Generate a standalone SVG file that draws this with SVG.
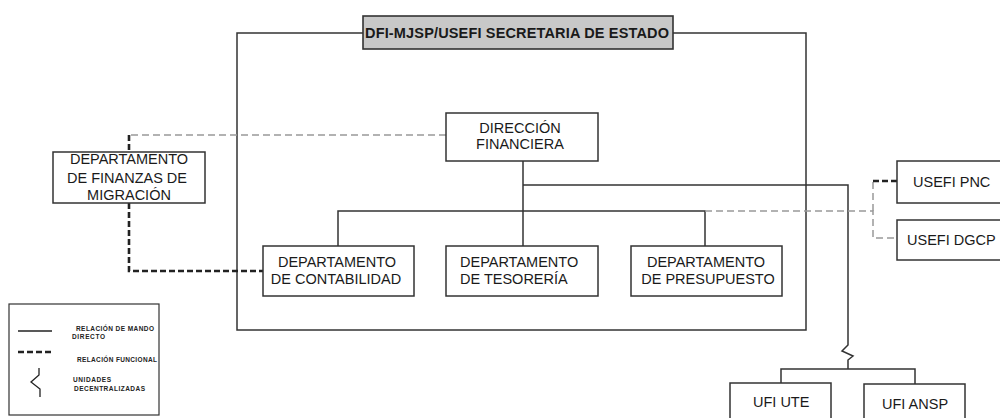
<svg xmlns="http://www.w3.org/2000/svg" width="1000" height="418" viewBox="0 0 1000 418">
<style>
.box{fill:#fff;stroke:#333;stroke-width:1.5}
.t{font-family:"Liberation Sans",Arial,sans-serif;font-size:14.5px;fill:#1a1a1a}
.c{text-anchor:middle}
.sol{fill:none;stroke:#333;stroke-width:1.5}
.gd{fill:none;stroke:#999;stroke-width:1.5;stroke-dasharray:7 4}
.bd{fill:none;stroke:#222;stroke-width:2.6;stroke-dasharray:6 3}
.lg{font-family:"Liberation Sans",Arial,sans-serif;font-size:6.5px;fill:#222;font-weight:bold}
</style>
<rect width="1000" height="418" fill="#fff"/>
<g id="frame"><rect x="237" y="33" width="569" height="297" class="sol"/></g>
<g id="connectors">
<path class="sol" d="M523,161 V246"/>
<path class="sol" d="M523,185 H848 V345 L842,351 L853,356 L848,360 V369"/>
<path class="sol" d="M338,246 V211 H705 V246"/>
<path class="sol" d="M781,383 V369 H915 V384"/>
<path class="gd" d="M446,135 H129"/>
<path class="bd" d="M129,135 V152"/>
<path class="bd" d="M129,203 V271 H263"/>
<path class="gd" d="M705,211 H873 V238 H897"/>
<path class="gd" d="M873,211 V181"/>
<path class="bd" d="M873,181 H897"/>
</g>
<g id="title"><rect x="363" y="16" width="310" height="33" fill="#c8c8c8" stroke="#333" stroke-width="1.6"/>
<text class="t" x="365" y="38" font-weight="bold" font-size="14.5" textLength="304">DFI-MJSP/USEFI SECRETARIA DE ESTADO</text></g>
<g id="df"><rect class="box" x="446" y="113" width="152" height="48"/>
<text class="t c" x="520" y="133">DIRECCIÓN</text><text class="t c" x="520" y="149">FINANCIERA</text></g>
<g id="migracion"><rect class="box" x="53" y="152" width="152" height="51"/>
<text class="t c" x="129" y="164">DEPARTAMENTO</text><text class="t c" x="127" y="183">DE FINANZAS DE</text><text class="t c" x="129" y="200">MIGRACIÓN</text></g>
<g id="contabilidad"><rect class="box" x="263" y="246" width="151" height="50"/>
<text class="t c" x="337" y="267">DEPARTAMENTO</text><text class="t c" x="336" y="284">DE CONTABILIDAD</text></g>
<g id="tesoreria"><rect class="box" x="446" y="246" width="152" height="50"/>
<text class="t" x="460" y="267">DEPARTAMENTO</text><text class="t" x="460" y="284">DE TESORERÍA</text></g>
<g id="presupuesto"><rect class="box" x="631" y="246" width="151" height="50"/>
<text class="t c" x="706" y="267">DEPARTAMENTO</text><text class="t c" x="708" y="284">DE PRESUPUESTO</text></g>
<g id="pnc"><rect class="box" x="897" y="161" width="115" height="42"/>
<text class="t" x="913" y="187">USEFI PNC</text></g>
<g id="dgcp"><rect class="box" x="897" y="220" width="115" height="40"/>
<text class="t" x="907" y="245">USEFI DGCP</text></g>
<g id="ute"><rect class="box" x="730" y="383" width="101" height="45"/>
<text class="t" x="753" y="407">UFI UTE</text></g>
<g id="ansp"><rect class="box" x="864" y="384" width="101" height="45"/>
<text class="t" x="882" y="409">UFI ANSP</text></g>
<g id="legend">
<rect x="9" y="304" width="150" height="111" fill="#fff" stroke="#333" stroke-width="1.2"/>
<path d="M18,331 H52" stroke="#222" stroke-width="1.3"/>
<path d="M18,352 H52" stroke="#222" stroke-width="2.6" stroke-dasharray="6 3"/>
<path d="M39,368 V375 L31,382 L40,389 V397" fill="none" stroke="#222" stroke-width="1.3"/>
<text class="lg" x="76" y="331" textLength="78">RELACIÓN DE MANDO</text>
<text class="lg" x="72" y="338.5" textLength="33">DIRECTO</text>
<text class="lg" x="77" y="362" textLength="80">RELACIÓN FUNCIONAL</text>
<text class="lg" x="73" y="382" textLength="38">UNIDADES</text>
<text class="lg" x="74" y="391" textLength="71">DECENTRALIZADAS</text>
</g>
</svg>
